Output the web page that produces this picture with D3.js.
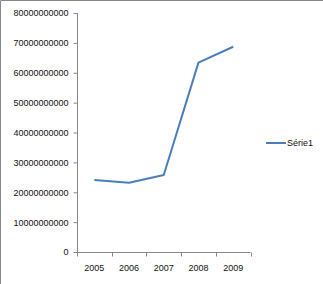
<!DOCTYPE html>
<html>
<head>
<meta charset="utf-8">
<script src="https://cdn.jsdelivr.net/npm/d3@7"></script>
<style>
  body { margin: 0; background: #fff; }
  svg text { font-family: "Liberation Sans", Arial, sans-serif; font-size: 9px; fill: #111; }
</style>
</head>
<body>
<svg width="323" height="284"></svg>
<script>
let years = ["2005", "2006", "2007", "2008", "2009"];
let values = [24100000000, 23200000000, 25800000000, 63400000000, 68700000000];
let yTicks = [0, 10000000000, 20000000000, 30000000000, 40000000000, 50000000000, 60000000000, 70000000000, 80000000000];
let seriesName = "Série1";

let svg = d3.select("svg");

// frame (only top and left edges show in the picture)
svg.append("path")
    .attr("d", "M0.5,284 V0.5 H323")
    .style("fill", "none")
    .style("stroke", "#888");

let plotLeft = 77, plotRight = 250.5, plotTop = 13, plotBottom = 252;

let x = d3.scaleBand().domain(years).range([plotLeft, plotRight]);
let y = d3.scaleLinear().domain([0, 80000000000]).range([plotBottom, plotTop]);

// y axis
let yAxis = svg.append("g")
    .attr("transform", `translate(${plotLeft + 0.5},0)`)
    .call(d3.axisLeft(y).tickValues(yTicks).tickFormat(d3.format("d")).tickSize(4).tickPadding(5));
yAxis.selectAll("path, line").style("stroke", "#888");
yAxis.select(".domain").attr("d", `M0,${plotTop}V${plotBottom}`);
yAxis.selectAll("text").attr("font-family", null).attr("font-size", null).attr("fill", null);

// x axis with ticks between categories
let xAxis = svg.append("g").attr("transform", `translate(0,${plotBottom + 0.5})`);
xAxis.append("path")
    .attr("d", `M${plotLeft},0H${plotRight}`)
    .style("stroke", "#888");
let edges = years.map(d => x(d)).concat([plotRight]);
xAxis.selectAll(".tk").data(edges).enter().append("line")
    .attr("x1", d => Math.round(d) + 0.5).attr("x2", d => Math.round(d) + 0.5)
    .attr("y1", 0).attr("y2", 4)
    .style("stroke", "#888");
xAxis.selectAll(".lbl").data(years).enter().append("text")
    .attr("x", d => x(d) + x.bandwidth() / 2)
    .attr("y", 18.5)
    .attr("text-anchor", "middle")
    .text(d => d);

// line
let line = d3.line()
    .x((d, i) => x(years[i]) + x.bandwidth() / 2)
    .y(d => y(d));
svg.append("path")
    .datum(values)
    .attr("d", line)
    .style("fill", "none")
    .style("stroke", "#4a7ebb")
    .style("stroke-width", 2)
    .style("stroke-linejoin", "round");

// legend
let lg = svg.append("g").attr("transform", "translate(266,143)");
lg.append("line")
    .attr("x1", 0).attr("x2", 20).attr("y1", 0).attr("y2", 0)
    .style("stroke", "#4a7ebb")
    .style("stroke-width", 2);
lg.append("text")
    .attr("x", 21)
    .attr("dy", "0.35em")
    .text(seriesName);
</script>
</body>
</html>
